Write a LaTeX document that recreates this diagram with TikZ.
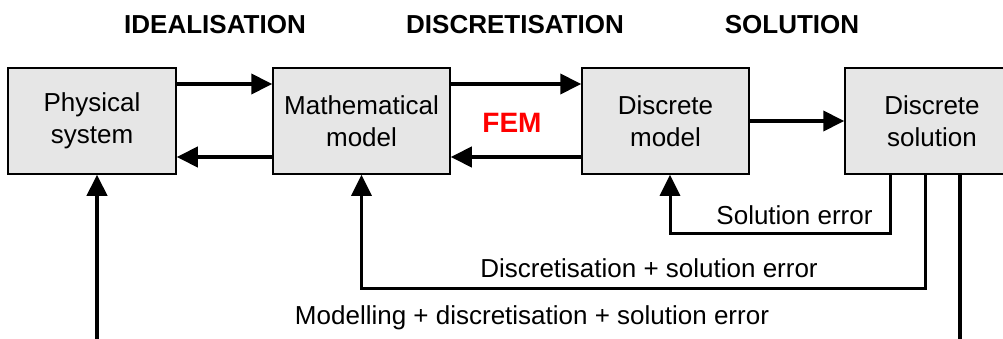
\documentclass[tikz,border=0pt]{standalone}
\usepackage{fontspec}
\setmainfont{Liberation Sans}
\usetikzlibrary{arrows.meta}
\definecolor{boxgray}{HTML}{E6E6E6}
\tikzset{
  stage/.style={draw=black,line width=1.5pt,fill=boxgray,align=center,
    minimum height=106pt,inner sep=0pt,font=\fontsize{26}{32}\selectfont},
  heading/.style={font=\fontsize{26}{31}\selectfont\bfseries},
  errlabel/.style={font=\fontsize{26}{31}\selectfont},
  flow/.style={line width=4pt,-{Triangle[length=21pt,width=20pt]}},
  back/.style={line width=3pt,-{Triangle[length=21pt,width=20pt]}}
}
\begin{document}
\begin{tikzpicture}[x=1pt,y=-1pt]
\useasboundingbox (0,0) rectangle (1003,339);
\clip (0,0) rectangle (1003,339);
% headings
\node[heading] (hideal) at (215,25) {IDEALISATION};
\node[heading] (hdisc) at (515,25) {DISCRETISATION};
\node[heading] (hsol) at (792,25) {SOLUTION};
% the four stages
\node[stage,minimum width=168pt] (phys) at (92,121) {Physical\\system};
\node[stage,minimum width=177pt] (math) at (361.5,121) {Mathematical\\model};
\node[stage,minimum width=167pt] (dmod) at (665.5,121) {Discrete\\model};
\node[stage,minimum width=174pt] (dsol) at (932,121) {Discrete\\solution};
\node[font=\fontsize{28}{31}\selectfont\bfseries,text=red] (fem) at (512,123) {FEM};
% forward and backward steps
\draw[flow] (phys.east |- 0,84) -- (math.west |- 0,84);
\draw[flow] (math.west |- 0,157) -- (phys.east |- 0,157);
\draw[flow] (math.east |- 0,84) -- (dmod.west |- 0,84);
\draw[flow] (dmod.west |- 0,157) -- (math.east |- 0,157);
\draw[flow] (dmod.east) -- (dsol.west);
% error feedback
\draw[back] (dsol.south -| 890,0) -- (890,233) -- (670,233) -- (dmod.south -| 670,0);
\draw[back] (dsol.south -| 925,0) -- (925,288) -- (361.5,288) -- (math.south);
\draw[back,line width=4pt] (dsol.south -| 960,0) -- (960,380) -- (97,380) -- (phys.south -| 97,0);
\node[errlabel] (lsol) at (794.5,215) {Solution error};
\node[errlabel] (ldisc) at (649,268) {Discretisation + solution error};
\node[errlabel] (lmod) at (532,318) {Modelling + discretisation + solution error};
\end{tikzpicture}
\end{document}
